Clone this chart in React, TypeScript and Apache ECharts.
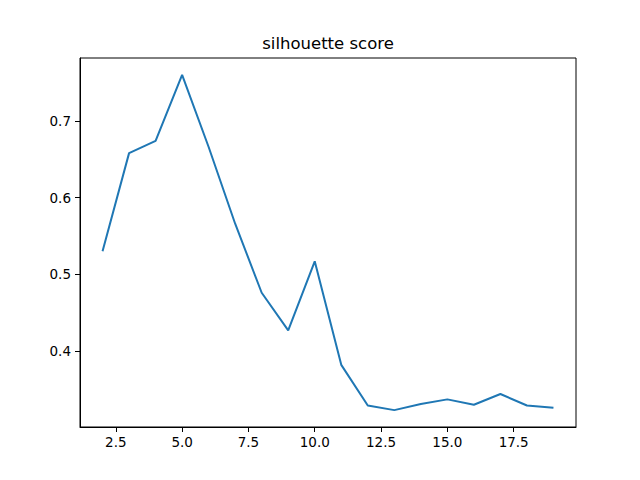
import React, { useEffect, useRef } from "react";
import * as echarts from "echarts";

// k (number of clusters) and the score
const clusterCounts = [2, 3, 4, 5, 6, 7, 8, 9, 10, 11, 12, 13, 14, 15, 16, 17, 18, 19];
const scores = [
  0.530, 0.658, 0.674, 0.760, 0.666, 0.566, 0.476, 0.427, 0.517,
  0.382, 0.329, 0.323, 0.331, 0.337, 0.330, 0.344, 0.329, 0.326,
];
const xTicks = [2.5, 5.0, 7.5, 10.0, 12.5, 15.0, 17.5];
const yTicks = [0.4, 0.5, 0.6, 0.7];
const chartTitle = "silhouette score";

const App = () => {
  const chartRef = useRef<HTMLDivElement>(null);

  useEffect(() => {
    const dom = chartRef.current;
    if (!dom) return;
    const chart = echarts.init(dom, null, { renderer: "svg" });

    const font = "DejaVu Sans";
    const axisCommon = {
      axisLine: { show: true, onZero: false, lineStyle: { color: "#000", width: 1 } },
      splitLine: { show: false },
    };

    chart.setOption({
      animation: false,
      backgroundColor: "#fff",
      textStyle: { fontFamily: font },
      graphic: [
        {
          type: "text",
          x: 328,
          y: 43,
          style: {
            text: chartTitle,
            fontFamily: font,
            fontSize: 16.5,
            fill: "#000",
            textAlign: "center",
            textVerticalAlign: "middle",
          },
        },
      ],
      grid: {
        left: 80,
        right: 64,
        top: 58,
        bottom: 53,
        show: true,
        borderColor: "#000",
        borderWidth: 1,
        backgroundColor: "transparent",
      },
      xAxis: {
        type: "value",
        min: 1.15,
        max: 19.85,
        ...axisCommon,
        axisTick: {
          show: true,
          length: 5,
          lineStyle: { color: "#000" },
          customValues: xTicks,
        },
        axisLabel: {
          color: "#000",
          fontSize: 13.5,
          fontFamily: font,
          margin: 8,
          customValues: xTicks,
          formatter: (v: number) => v.toFixed(1),
        },
      },
      yAxis: {
        type: "value",
        min: 0.301,
        max: 0.782,
        ...axisCommon,
        axisTick: {
          show: true,
          length: 5,
          lineStyle: { color: "#000" },
          customValues: yTicks,
        },
        axisLabel: {
          color: "#000",
          fontSize: 13.5,
          fontFamily: font,
          margin: 9,
          customValues: yTicks,
          formatter: (v: number) => v.toFixed(1),
        },
      },
      series: [
        {
          type: "line",
          data: clusterCounts.map((k, i) => [k, scores[i]]),
          showSymbol: false,
          symbol: "none",
          lineStyle: { color: "#1f77b4", width: 2 },
          itemStyle: { color: "#1f77b4" },
        },
      ],
    });

    return () => {
      chart.dispose();
    };
  }, []);

  return (
    <div
      ref={chartRef}
      style={{ position: "fixed", left: 0, top: 0, width: 640, height: 480 }}
    ></div>
  );
};

export default App;
